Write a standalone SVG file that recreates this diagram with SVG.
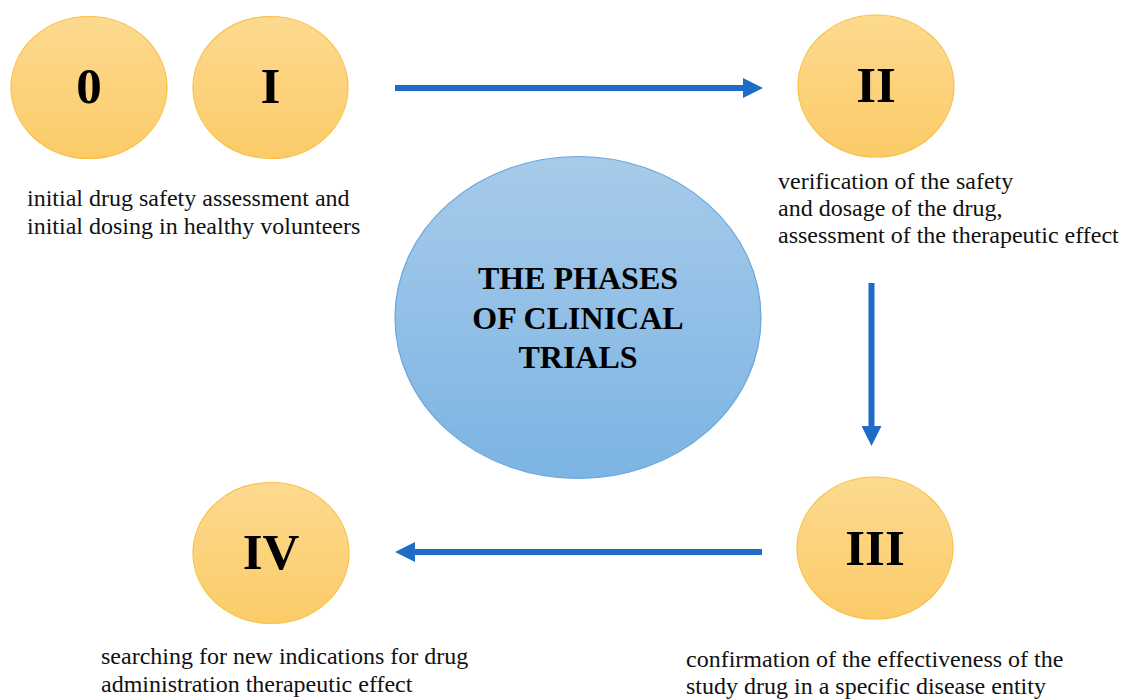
<svg xmlns="http://www.w3.org/2000/svg" width="1125" height="699" viewBox="0 0 1125 699">
<style>
.phase{stroke:#F9C046;stroke-width:1.2;fill:url(#og)}
.num{font-family:"Liberation Serif","Times New Roman",serif;font-weight:bold;font-size:51px;fill:#000;text-anchor:middle}
.desc{font-family:"Liberation Serif","Times New Roman","DejaVu Serif",serif;font-weight:normal;font-style:normal;font-size:24px;fill:#111}
.title{font-family:"Liberation Serif","Times New Roman",serif;font-weight:bold;font-size:32px;fill:#000;text-anchor:middle}
.conn{stroke:#1E6CC6;stroke-width:6;fill:none}
</style>
<defs>
<linearGradient id="og" x1="0" y1="0" x2="0" y2="1">
<stop offset="0" stop-color="#FDDA90"/>
<stop offset="1" stop-color="#FBCB68"/>
</linearGradient>
<linearGradient id="bg" x1="0" y1="0" x2="0" y2="1">
<stop offset="0" stop-color="#A7CBEA"/>
<stop offset="1" stop-color="#7CB4E3"/>
</linearGradient>
<marker id="ah" markerWidth="20" markerHeight="20" viewBox="0 0 20 20" refX="0" refY="10" orient="auto" markerUnits="userSpaceOnUse">
<path d="M0,0 L20,10 L0,20 Z" fill="#1E6CC6"/>
</marker>
</defs>
<rect width="1125" height="699" fill="#fff"/>
<g id="center">
<ellipse cx="578" cy="317.5" rx="183" ry="161" fill="url(#bg)" stroke="#6AA6DD" stroke-width="1.2"/>
<text class="title" x="578" y="289">THE PHASES</text>
<text class="title" x="578" y="329">OF CLINICAL</text>
<text class="title" x="578" y="368">TRIALS</text>
</g>
<g id="phase0">
<ellipse class="phase" cx="89" cy="87.5" rx="78" ry="71"/>
<text class="num" x="89" y="103">0</text>
</g>
<g id="phase1">
<ellipse class="phase" cx="270.5" cy="87.5" rx="77.5" ry="71"/>
<text class="num" x="270.5" y="103">I</text>
<text class="desc" x="27" y="206">initial drug safety assessment and</text>
<text class="desc" x="27" y="234">initial dosing in healthy volunteers</text>
</g>
<g id="phase2">
<ellipse class="phase" cx="876" cy="86" rx="78" ry="71"/>
<text class="num" x="876" y="102">II</text>
<text class="desc" x="778" y="189">verification of the safety</text>
<text class="desc" x="778" y="216">and dosage of the drug,</text>
<text class="desc" x="778" y="243">assessment of the therapeutic effect</text>
</g>
<g id="phase3">
<ellipse class="phase" cx="875" cy="548" rx="78" ry="71"/>
<text class="num" x="875" y="565">III</text>
<text class="desc" x="686" y="667">confirmation of the effectiveness of the</text>
<text class="desc" x="686" y="694">study drug in a specific disease entity</text>
</g>
<g id="phase4">
<ellipse class="phase" cx="271" cy="553" rx="78" ry="70.5"/>
<text class="num" x="271" y="569">IV</text>
<text class="desc" x="101" y="664">searching for new indications for drug</text>
<text class="desc" x="101" y="692">administration therapeutic effect</text>
</g>
<g id="connectors">
<line class="conn" x1="395" y1="88" x2="743" y2="88" marker-end="url(#ah)"/>
<line class="conn" x1="871.5" y1="283" x2="871.5" y2="426" marker-end="url(#ah)"/>
<line class="conn" x1="762" y1="552" x2="415" y2="552" marker-end="url(#ah)"/>
</g>
</svg>
